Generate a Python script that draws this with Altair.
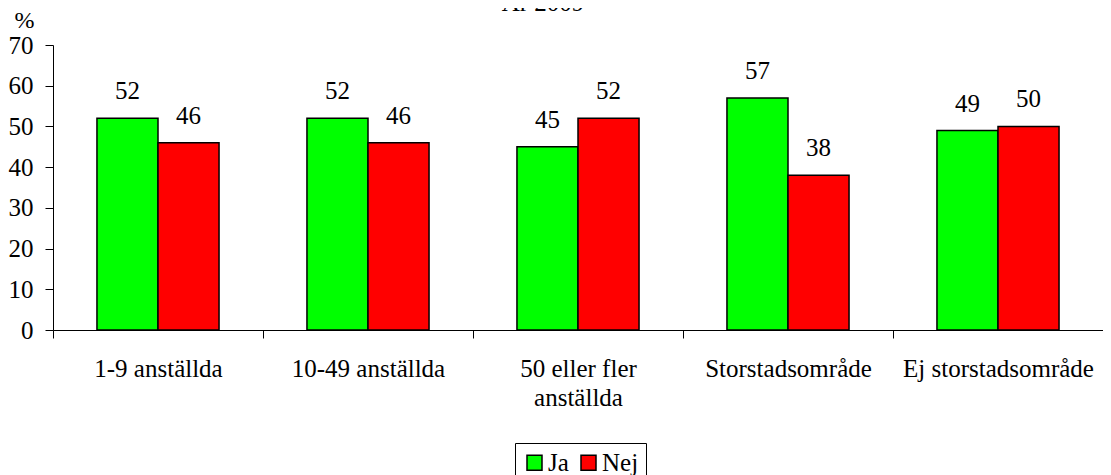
import altair as alt
import pandas as pd

categories = ["1-9 anställda", "10-49 anställda", "50 eller fler\nanställda",
              "Storstadsområde", "Ej storstadsområde"]
ja = [52, 52, 45, 57, 49]
nej = [46, 46, 52, 38, 50]
series = ["Ja", "Nej"]
colors = ["#00FF00", "#FF0000"]
y_ticks = [0, 10, 20, 30, 40, 50, 60, 70]

rows = []
for c, a, b in zip(categories, ja, nej):
    rows.append({"Kategori": c, "Svar": "Ja", "Procent": a})
    rows.append({"Kategori": c, "Svar": "Nej", "Procent": b})
df = pd.DataFrame(rows)

FONT = "Liberation Serif"
FS = 25

x_enc = alt.X(
    "Kategori:N", sort=categories,
    scale=alt.Scale(paddingInner=0, paddingOuter=0),
    axis=alt.Axis(title=None, labelAngle=0, tickBand="extent",
                  labelExpr="split(datum.label, '\\n')",
                  labelFont=FONT, labelFontSize=FS, labelColor="black",
                  labelPadding=18, labelLineHeight=29, labelLimit=0,
                  tickSize=8, tickColor="black", domainColor="black",
                  labelBaseline="top"),
)
xoff_enc = alt.XOffset("Svar:N", sort=series,
                       scale=alt.Scale(paddingOuter=0.72, paddingInner=0))
y_enc = alt.Y(
    "Procent:Q",
    scale=alt.Scale(domain=[0, 70], nice=False),
    axis=alt.Axis(values=y_ticks, grid=False, title="%", titleAngle=0,
                  titleX=-29, titleY=-18, titleAlign="center",
                  titleBaseline="alphabetic", titleFont=FONT,
                  titleFontWeight="normal", titleFontSize=24, titleColor="black",
                  labelFont=FONT, labelFontSize=FS, labelColor="black",
                  labelPadding=12, tickSize=8, tickColor="black",
                  domainColor="black"),
)
color_enc = alt.Color(
    "Svar:N", sort=series,
    scale=alt.Scale(domain=series, range=colors),
    legend=alt.Legend(title=None, orient="none", legendX=462, legendY=398,
                      direction="horizontal", strokeColor="black", padding=7,
                      symbolType="square", symbolSize=225,
                      symbolStrokeColor="black", symbolStrokeWidth=1.5,
                      labelFont=FONT, labelFontSize=FS, labelColor="black",
                      labelOffset=1, columnPadding=7, symbolOpacity=1),
)

base = alt.Chart(df).encode(x=x_enc, xOffset=xoff_enc, y=y_enc)

bars = base.mark_bar(stroke="black", strokeWidth=1.5).encode(color=color_enc)
labels = base.mark_text(dy=-19, baseline="alphabetic", font=FONT,
                        fontSize=FS, color="black").encode(text="Procent:Q")

chart = (bars + labels).properties(
    width=1050, height=285,
    title=alt.TitleParams("År 2009", font=FONT, fontSize=FS,
                          fontWeight="normal", color="black",
                          anchor="middle", dx=-35, offset=0, dy=8),
    autosize=alt.AutoSizeParams(type="none"),
    padding={"left": 45, "top": 37, "right": 0, "bottom": 145},
).configure_view(stroke=None)

chart.save("out.html", embed_options={"renderer": "svg", "actions": False})
